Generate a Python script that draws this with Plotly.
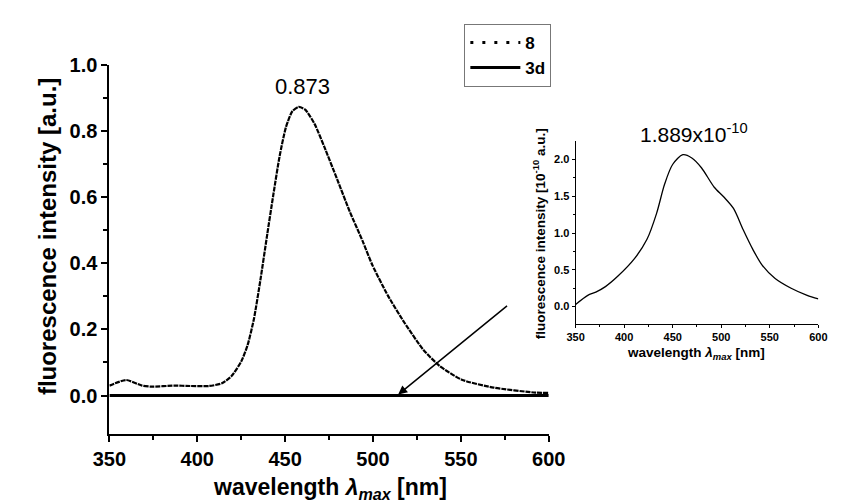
import plotly.graph_objects as go

# page body has an 8px default margin, so the figure is drawn 8px in from the corner
OFF = 8
W, H = 843 - OFF, 503 - OFF

# ---- data ----
wl_8 = [350, 359.5, 368.6, 374, 386.8, 395.9, 406.8, 414, 419.5, 425, 428.6, 432.2, 435.9,
        439.5, 443.2, 446.8, 450.4, 454.1, 457.7, 461.4, 466.8, 472.3, 479.6, 486.8, 494.1,
        499.6, 508.7, 517.8, 528.7, 537.8, 550.5, 568.7, 592.4, 600]
int_8 = [0.030, 0.047, 0.030, 0.027, 0.030, 0.029, 0.029, 0.037, 0.059, 0.103, 0.152, 0.231, 0.349,
         0.477, 0.605, 0.723, 0.811, 0.860, 0.873, 0.865, 0.821, 0.752, 0.654, 0.556, 0.467,
         0.395, 0.300, 0.221, 0.138, 0.090, 0.048, 0.024, 0.009, 0.008]

wl_3d = [350, 600]
int_3d = [0.0, 0.0]

wl_inset = [350, 362.5, 370.8, 380.7, 393.9, 410.4, 423.5, 433.4, 441.7, 449.9, 460.5, 469.7,
            479.6, 492.8, 502.7, 512.6, 522.5, 532.4, 542.3, 555.5, 572, 588.5, 600]
int_inset = [0.027, 0.151, 0.195, 0.27, 0.417, 0.647, 0.914, 1.268, 1.667, 1.933, 2.066, 2.022,
             1.889, 1.623, 1.490, 1.335, 1.047, 0.780, 0.559, 0.381, 0.248, 0.151, 0.102]

x_ticks = [350, 400, 450, 500, 550, 600]
x_minor = [375, 425, 475, 525, 575]
y_ticks = [0.0, 0.2, 0.4, 0.6, 0.8, 1.0]
y_minor = [0.1, 0.3, 0.5, 0.7, 0.9]
y2_ticks = [0.0, 0.5, 1.0, 1.5, 2.0]
y2_minor = [0.25, 0.75, 1.25, 1.75]

peak_main_label = "0.873"
peak_inset_label = "1.889x10<sup>-10</sup>"

FONT = "Liberation Sans, Arial, sans-serif"


def px(x):
    return (x - OFF) / W


def py(y):
    return 1 - (y - OFF) / H


fig = go.Figure()

# main spectrum of 8 (densely sampled, dotted look)
fig.add_trace(go.Scatter(x=wl_8, y=int_8, mode="lines", line=dict(color="black", width=2.2,
                         dash="5px,1px", shape="spline", smoothing=0.6),
                         showlegend=False, hoverinfo="skip"))
# legend entry for 8
fig.add_trace(go.Scatter(x=[None], y=[None], mode="lines", name="8",
                         line=dict(color="black", width=3, dash="3px,9px")))
# 3d on the same scale (flat)
fig.add_trace(go.Scatter(x=wl_3d, y=int_3d, mode="lines", name="3d",
                         line=dict(color="black", width=3)))
# inset spectrum of 3d
fig.add_trace(go.Scatter(x=wl_inset, y=int_inset, mode="lines", xaxis="x2", yaxis="y2",
                         line=dict(color="black", width=1.3, shape="spline", smoothing=0.8),
                         showlegend=False))

axis_common = dict(showline=True, linecolor="black", ticks="outside", tickcolor="black",
                   showgrid=False, zeroline=False, mirror=False)

fig.update_layout(
    width=W, height=H,
    margin=dict(l=0, r=0, t=0, b=0),
    paper_bgcolor="white", plot_bgcolor="white",
    font=dict(family=FONT, color="black"),
    xaxis=dict(domain=[px(96), px(554)], range=[350, 600], anchor="y",
               tickvals=x_ticks, linewidth=2, tickwidth=2, ticklen=6,
               tickfont=dict(size=20, weight="bold"),
               minor=dict(tickvals=x_minor, ticks="outside", ticklen=4, tickwidth=1.5,
                          tickcolor="black"),
               **axis_common),
    yaxis=dict(domain=[py(432), py(55)], range=[-0.115, 1.0], anchor="x",
               tickvals=y_ticks, tickformat=".1f", linewidth=2, tickwidth=2, ticklen=6,
               tickfont=dict(size=20, weight="bold"),
               minor=dict(tickvals=y_minor, ticks="outside", ticklen=4, tickwidth=1.5,
                          tickcolor="black"),
               **axis_common),
    xaxis2=dict(domain=[px(582), px(835)], range=[350, 600], anchor="y2",
                tickvals=x_ticks, linewidth=1.2, tickwidth=1.2, ticklen=3,
                tickfont=dict(size=11, weight="bold"),
                minor=dict(tickvals=x_minor, ticks="outside", ticklen=2, tickwidth=1,
                           tickcolor="black"),
                **axis_common),
    yaxis2=dict(domain=[py(320), py(133)], range=[-0.24, 2.25], anchor="x2",
                tickvals=y2_ticks, tickformat=".1f", linewidth=1.2, tickwidth=1.2, ticklen=3,
                tickfont=dict(size=11, weight="bold"),
                minor=dict(tickvals=y2_minor, ticks="outside", ticklen=2, tickwidth=1,
                           tickcolor="black"),
                **axis_common),
    legend=dict(x=px(466), y=py(13), xanchor="left", yanchor="top",
                bordercolor="#777777", borderwidth=1, bgcolor="white",
                font=dict(size=17, weight="bold"), itemwidth=50, tracegroupgap=0),
)

anns = [
    dict(text="fluorescence intensity [a.u.]", x=px(31), y=py(231), textangle=-90,
         font=dict(size=24, weight="bold")),
    dict(text="wavelength <i>λ</i><sub><i>max</i></sub> [nm]", x=px(326), y=py(488),
         font=dict(size=23, weight="bold")),
    dict(text=peak_main_label, x=px(297), y=py(77), font=dict(size=22)),
    dict(text=peak_inset_label, x=px(705), y=py(125), font=dict(size=21)),
    dict(text="fluorescence intensity [10<sup>-10</sup> a.u.]", x=px(544), y=py(228),
         textangle=-90, font=dict(size=13.5, weight="bold")),
    dict(text="wavelength <i>λ</i><sub><i>max</i></sub> [nm]", x=px(708), y=py(350),
         font=dict(size=13.5, weight="bold")),
]
for a in anns:
    fig.add_annotation(xref="paper", yref="paper", showarrow=False,
                       xanchor="center", yanchor="middle", **a)

# arrow pointing to the flat 3d trace
fig.add_annotation(x=514.3, y=0.003, ax=577.1, ay=0.275, xref="x", yref="y",
                   axref="x", ayref="y", showarrow=True, arrowhead=2, arrowsize=1.2,
                   arrowwidth=1.5, arrowcolor="black", text="")

fig.write_html("out.html")
